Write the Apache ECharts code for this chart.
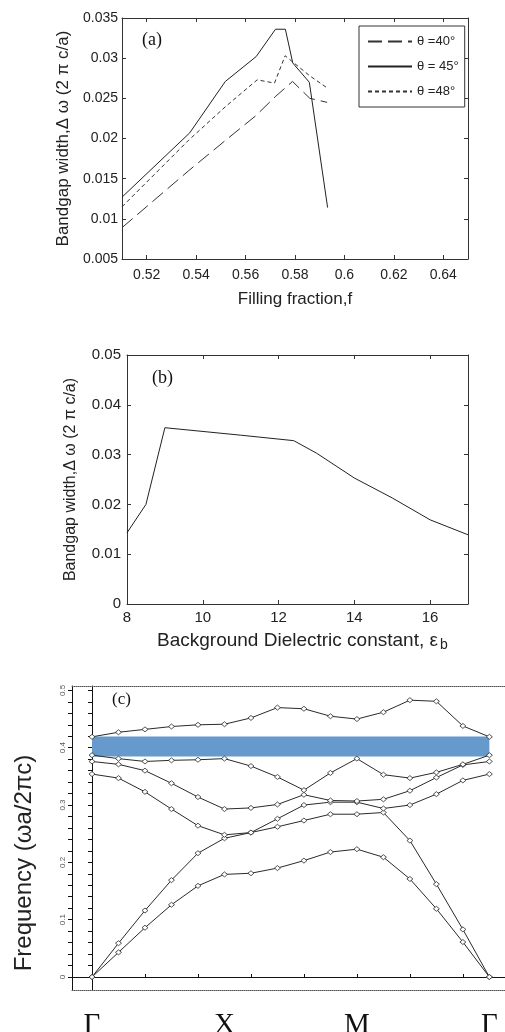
<!DOCTYPE html>
<html>
<head>
<meta charset="utf-8">
<script src="https://cdn.jsdelivr.net/npm/echarts@6/dist/echarts.min.js"></script>
<style>
  html, body { margin: 0; padding: 0; background: #fff; }
  #chart { width: 505px; height: 1032px; }
</style>
</head>
<body>
<div id="chart"></div>
<script>
// panel (a): bandgap width vs filling fraction
var f40 = [0.51, 0.537, 0.552, 0.564, 0.572, 0.579, 0.586, 0.593];
var w40 = [0.0089, 0.0160, 0.0198, 0.0228, 0.0252, 0.0271, 0.0250, 0.0245];
var f45 = [0.51, 0.5374, 0.5518, 0.5643, 0.5721, 0.5761, 0.5791, 0.5858, 0.5932];
var w45 = [0.0127, 0.0207, 0.0271, 0.0302, 0.0336, 0.0336, 0.0294, 0.0270, 0.0114];
var f48 = [0.51, 0.537, 0.552, 0.5647, 0.5717, 0.576, 0.586, 0.593];
var w48 = [0.0115, 0.0198, 0.0240, 0.0273, 0.0269, 0.0303, 0.0278, 0.0263];
var fTicks = [0.52, 0.54, 0.56, 0.58, 0.6, 0.62, 0.64];

// panel (b): bandgap width vs background dielectric constant
var epsB = [8, 8.5, 9, 11, 12.4, 13, 14, 15, 16, 17];
var wB = [0.0143, 0.0200, 0.0354, 0.0339, 0.0328, 0.0303, 0.0253, 0.0213, 0.0169, 0.0139];
var epsTicks = [8, 10, 12, 14, 16];

// panel (c): band structure, 16 k-points Γ -> X -> M -> Γ
var kIndex = [0, 1, 2, 3, 4, 5, 6, 7, 8, 9, 10, 11, 12, 13, 14, 15];
var kLabels = ['Γ', 'X', 'M', 'Γ'];
var kLabelPos = [0, 5, 10, 15];
var kTicks = [0, 2, 4, 6, 8, 10, 12, 14];
var band1 = [0, 0.043, 0.086, 0.126, 0.159, 0.179, 0.181, 0.190, 0.203, 0.218, 0.223, 0.209, 0.171, 0.119, 0.061, 0];
var band2 = [0, 0.059, 0.116, 0.169, 0.216, 0.242, 0.252, 0.262, 0.273, 0.284, 0.284, 0.287, 0.238, 0.162, 0.083, 0];
var band3 = [0.354, 0.347, 0.323, 0.293, 0.264, 0.248, 0.252, 0.276, 0.300, 0.305, 0.305, 0.294, 0.300, 0.319, 0.343, 0.354];
var band4 = [0.376, 0.371, 0.360, 0.338, 0.314, 0.293, 0.295, 0.301, 0.318, 0.308, 0.307, 0.310, 0.325, 0.348, 0.370, 0.376];
var band5 = [0.387, 0.381, 0.376, 0.378, 0.379, 0.381, 0.368, 0.349, 0.326, 0.356, 0.381, 0.353, 0.347, 0.357, 0.371, 0.387];
var band6 = [0.419, 0.427, 0.432, 0.437, 0.440, 0.441, 0.452, 0.470, 0.468, 0.455, 0.450, 0.462, 0.483, 0.481, 0.438, 0.419];
var gapEdges = [0.3845, 0.4194];
var freqLabels = [0, 0.1, 0.2, 0.3, 0.4, 0.5];
var freqTicks = [0, 0.02, 0.04, 0.06, 0.08, 0.1, 0.12, 0.14, 0.16, 0.18, 0.2, 0.22, 0.24, 0.26, 0.28, 0.3,
                 0.32, 0.34, 0.36, 0.38, 0.4, 0.42, 0.44, 0.46, 0.48, 0.5];

var sans = 'Liberation Sans, Arial, sans-serif';
var serif = 'Liberation Serif, Times New Roman, serif';
var ink = '#222';

function pairs(xs, ys) {
    var out = [];
    for (var i = 0; i < xs.length; i++) out.push([xs[i], ys[i]]);
    return out;
}

// plain frame axis, MATLAB style: ticks inside, no labels
function frame(grid, pos, extra) {
    var ax = {
        type: 'value', gridIndex: grid, position: pos,
        axisLine: { show: true, onZero: false, lineStyle: { color: '#333', width: 1 } },
        axisTick: { show: true, inside: true, length: 4, lineStyle: { color: '#333' } },
        axisLabel: { show: false },
        splitLine: { show: false }
    };
    return Object.assign(ax, extra || {});
}

var chart = echarts.init(document.getElementById('chart'), null, { renderer: 'canvas' });

var bandColor = '#2a2a2a';
function bandSeries(name, vals) {
    return {
        name: name, type: 'line', xAxisIndex: 4, yAxisIndex: 5,
        data: pairs(kIndex, vals),
        symbol: 'diamond', symbolSize: [6, 5], showSymbol: true,
        lineStyle: { color: bandColor, width: 1 },
        itemStyle: { color: '#fff', borderColor: bandColor, borderWidth: 0.8 },
        emphasis: { disabled: true }, z: 3
    };
}

var option = {
    animation: false,
    backgroundColor: '#fff',
    grid: [
        { left: 122, top: 18, width: 346, height: 241, outerBoundsMode: 'none' },
        { left: 127, top: 355, width: 341, height: 249, outerBoundsMode: 'none' },
        { left: 72, top: 686, right: 0, height: 304, outerBoundsMode: 'none' }
    ],
    legend: {
        data: ['θ =40°', 'θ = 45°', 'θ =48°'],
        orient: 'vertical', left: 359, top: 26,
        padding: [9, 6, 9, 8], itemGap: 12,
        itemWidth: 44, itemHeight: 14,
        borderColor: '#333', borderWidth: 1,
        backgroundColor: '#fff',
        itemStyle: { color: 'rgba(0,0,0,0)', borderWidth: 0, opacity: 0 },
        textStyle: { fontFamily: 'Liberation Sans Narrow, Arial Narrow, ' + sans, fontSize: 13, color: ink }
    },
    xAxis: [
        frame(0, 'bottom', {
            min: 0.51, max: 0.65,
            axisTick: { show: true, inside: true, length: 4, customValues: fTicks, lineStyle: { color: '#333' } },
            axisLabel: { show: true, customValues: fTicks, fontFamily: sans, fontSize: 14, color: ink, margin: 9 },
            name: 'Filling fraction,f', nameLocation: 'middle', nameGap: 32,
            nameTextStyle: { fontFamily: sans, fontSize: 17, color: ink }
        }),
        frame(0, 'top', {
            min: 0.51, max: 0.65,
            axisTick: { show: true, inside: true, length: 4, customValues: fTicks, lineStyle: { color: '#333' } }
        }),
        frame(1, 'bottom', {
            min: 8, max: 17,
            axisTick: { show: true, inside: true, length: 4, customValues: epsTicks, lineStyle: { color: '#333' } },
            axisLabel: { show: true, customValues: epsTicks, fontFamily: sans, fontSize: 15, color: ink, margin: 6 },
            name: 'Background Dielectric constant, ε', nameLocation: 'middle', nameGap: 27,
            nameTextStyle: { fontFamily: sans, fontSize: 19, color: ink }
        }),
        frame(1, 'top', {
            min: 8, max: 17,
            axisTick: { show: true, inside: true, length: 4, customValues: epsTicks, lineStyle: { color: '#333' } }
        }),
        // zero line of panel (c)
        {
            type: 'value', gridIndex: 2, position: 'bottom', min: -0.755, max: 15.59,
            axisLine: { show: true, onZero: true, lineStyle: { color: '#111', width: 1 } },
            axisTick: { show: true, inside: true, length: 3, customValues: kTicks, lineStyle: { color: '#111' } },
            axisLabel: { show: false }, splitLine: { show: false }
        },
        // bottom dotted border with symmetry point labels
        {
            type: 'value', gridIndex: 2, position: 'bottom', min: -0.755, max: 15.59,
            axisLine: { show: true, onZero: false, lineStyle: { color: '#555', width: 1, type: 'dotted' } },
            axisTick: { show: false },
            axisLabel: {
                show: true, customValues: kLabelPos, margin: 21,
                fontFamily: serif, fontSize: 29, color: '#111',
                formatter: function (v) { return kLabels[kLabelPos.indexOf(v)]; }
            },
            splitLine: { show: false }
        },
        {
            type: 'value', gridIndex: 2, position: 'top', min: -0.755, max: 15.59,
            axisLine: { show: true, onZero: false, lineStyle: { color: '#555', width: 1, type: 'dotted' } },
            axisTick: { show: false }, axisLabel: { show: false }, splitLine: { show: false }
        }
    ],
    yAxis: [
        frame(0, 'left', {
            min: 0.005, max: 0.035, interval: 0.005,
            axisLabel: { show: true, fontFamily: sans, fontSize: 14, color: ink, margin: 4 },
            name: 'Bandgap width,Δ ω (2 π c/a)', nameLocation: 'middle', nameGap: 48,
            nameTextStyle: { fontFamily: sans, fontSize: 17, color: ink }
        }),
        frame(0, 'right', { min: 0.005, max: 0.035, interval: 0.005 }),
        frame(1, 'left', {
            min: 0, max: 0.05, interval: 0.01,
            axisLabel: { show: true, fontFamily: sans, fontSize: 15, color: ink, margin: 6 },
            name: 'Bandgap width,Δ ω (2 π c/a)', nameLocation: 'middle', nameGap: 48,
            nameTextStyle: { fontFamily: sans, fontSize: 16, color: ink }
        }),
        frame(1, 'right', { min: 0, max: 0.05, interval: 0.01 }),
        // outer frequency axis of panel (c)
        {
            type: 'value', gridIndex: 2, position: 'left', min: -0.0227, max: 0.5077,
            axisLine: { show: true, onZero: false, lineStyle: { color: '#111', width: 1 } },
            axisTick: { show: true, length: 4, customValues: freqTicks, lineStyle: { color: '#111' } },
            axisLabel: { show: true, customValues: freqLabels, rotate: 90, fontFamily: sans, fontSize: 8, color: '#555', margin: 5 },
            splitLine: { show: false }
        },
        // axis through Γ
        {
            type: 'value', gridIndex: 2, position: 'left', min: -0.0227, max: 0.5077,
            axisLine: { show: true, onZero: true, lineStyle: { color: '#111', width: 1 } },
            axisTick: { show: true, length: 4, customValues: freqTicks, lineStyle: { color: '#111' } },
            axisLabel: { show: false }, splitLine: { show: false }
        }
    ],
    series: [
        {
            name: 'θ =40°', type: 'line', xAxisIndex: 0, yAxisIndex: 0,
            data: pairs(f40, w40), symbol: 'none',
            lineStyle: { color: '#333', width: 1, type: [14, 6] },
            itemStyle: { color: '#333' }
        },
        {
            name: 'θ = 45°', type: 'line', xAxisIndex: 0, yAxisIndex: 0,
            data: pairs(f45, w45), symbol: 'none',
            lineStyle: { color: '#222', width: 1 },
            itemStyle: { color: '#222' }
        },
        {
            name: 'θ =48°', type: 'line', xAxisIndex: 0, yAxisIndex: 0,
            data: pairs(f48, w48), symbol: 'none',
            lineStyle: { color: '#333', width: 1, type: [4, 3] },
            itemStyle: { color: '#333' }
        },
        {
            name: 'eps', type: 'line', xAxisIndex: 2, yAxisIndex: 2,
            data: pairs(epsB, wB), symbol: 'none',
            lineStyle: { color: '#222', width: 1 }
        },
        Object.assign(bandSeries('b1', band1), {
            markArea: {
                silent: true,
                itemStyle: { color: '#6699cc', opacity: 1 },
                data: [[{ coord: [kLabelPos[0], gapEdges[0]] }, { coord: [kLabelPos[3], gapEdges[1]] }]]
            }
        }),
        bandSeries('b2', band2),
        bandSeries('b3', band3),
        bandSeries('b4', band4),
        bandSeries('b5', band5),
        bandSeries('b6', band6)
    ],
    graphic: [
        { type: 'text', left: 142, top: 31, style: { text: '(a)', font: '18px ' + serif, fill: '#111' } },
        { type: 'text', left: 152, top: 369, style: { text: '(b)', font: '18px ' + serif, fill: '#111' } },
        { type: 'text', left: 112, top: 691, style: { text: '(c)', font: '17px ' + serif, fill: '#111' } },
        { type: 'text', left: 440, top: 638, style: { text: 'b', font: '14px ' + sans, fill: ink } },
        {
            type: 'text', x: 24, y: 863, rotation: Math.PI / 2,
            style: { text: 'Frequency (ωa/2πc)', font: '24px ' + sans, fill: ink, align: 'center', verticalAlign: 'middle' }
        }
    ]
};

chart.setOption(option);
window.addEventListener('resize', chart.resize);
</script>
</body>
</html>
